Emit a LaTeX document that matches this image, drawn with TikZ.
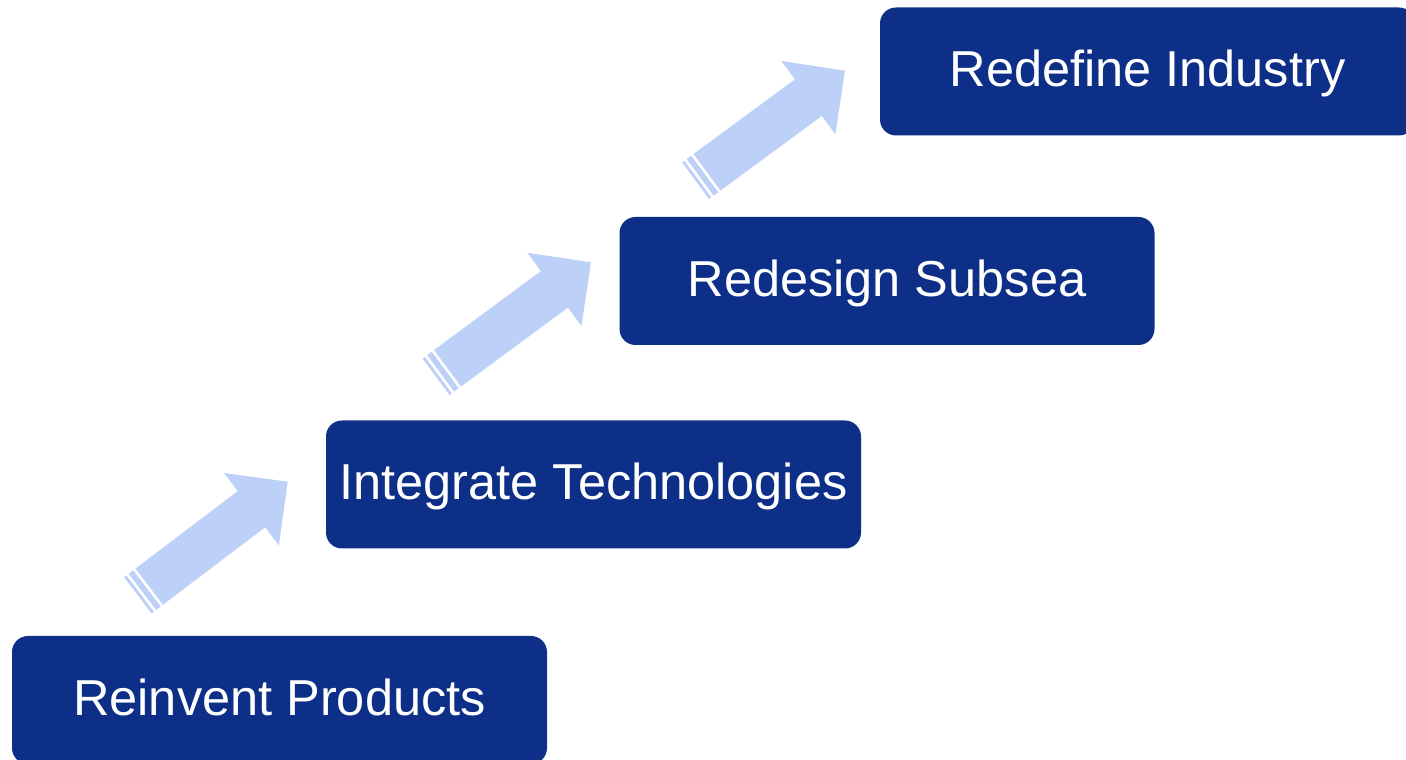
\documentclass[tikz,border=0pt]{standalone}
\usepackage{fontspec}
\setmainfont{Liberation Sans}
\definecolor{boxblue}{RGB}{13,47,135}
\definecolor{arrowblue}{RGB}{189,208,248}
\newcommand\stripedarrow[3]{%
  \begin{scope}[shift={#1}, rotate=#2]
    \fill[arrowblue] (0,-22.7) -- ({#3-45.5},-22.7) -- ({#3-45.5},-45.5) -- (#3,0)
      -- ({#3-45.5},45.5) -- ({#3-45.5},22.7) -- (0,22.7) -- cycle;
    \fill[arrowblue] (-14.2,-22.7) rectangle (-11.4,22.7);
    \fill[arrowblue] (-8.5,-22.7) rectangle (-2.84,22.7);
  \end{scope}}
\tikzset{
  stage/.style={fill=boxblue, rounded corners=16pt, minimum width=535pt, minimum height=128pt,
    inner sep=0pt, text=white, text height=36pt, text depth=0pt,
    font=\fontsize{50.5}{58}\selectfont}
}
\begin{document}
\begin{tikzpicture}[x=1pt,y=1pt]
\useasboundingbox (0,0) rectangle (1406,760);
\clip (0,0) rectangle (1406,760);
\node[stage] (s1) at (279.5,60) {\raisebox{2.5pt}{Reinvent Products}};
\node[stage] (s2) at (593.5,275.5) {\raisebox{2.5pt}{Integrate Technologies}};
\node[stage] (s3) at (887,479) {\raisebox{2.5pt}{Redesign Subsea}};
\node[stage] (s4) at (1147.5,688.5) {\raisebox{2.5pt}{Redefine Industry}};
\coordinate (a1) at (149.2,173.3);
\coordinate (a2) at (447.5,391.7);
\coordinate (a3) at (707,587.7);
\stripedarrow{(a1)}{37.17}{173.8}
\stripedarrow{(a2)}{36.45}{178.4}
\stripedarrow{(a3)}{36.36}{171.4}
\end{tikzpicture}
\end{document}
